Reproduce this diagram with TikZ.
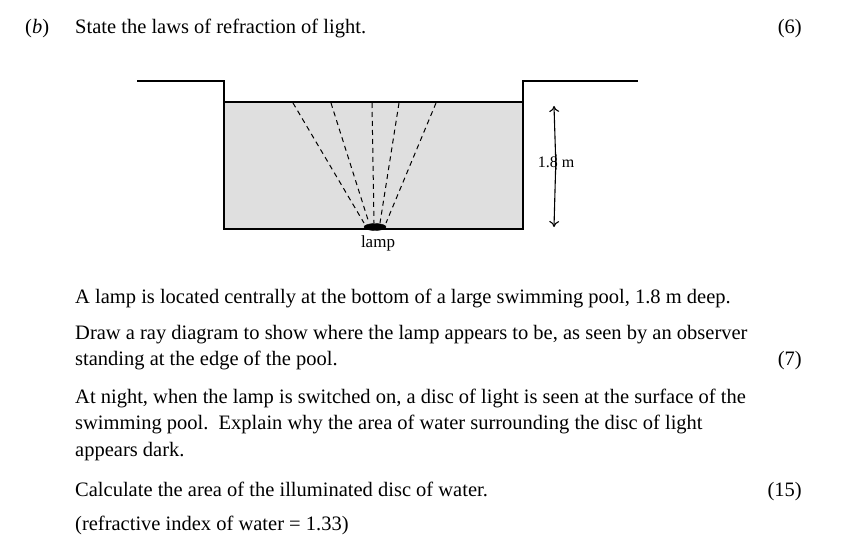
\documentclass[tikz,border=0pt]{standalone}
\usepackage{fontspec}
\setmainfont{Liberation Serif}
\usetikzlibrary{shapes.geometric,arrows.meta}
\begin{document}
\begin{tikzpicture}[x=1pt,y=-1pt,
  txt/.style={anchor=base west,inner sep=0pt,font=\fontsize{20.5}{24}\selectfont},
  mrk/.style={anchor=base east,inner sep=0pt,font=\fontsize{20.5}{24}\selectfont},
  ray/.style={line width=1pt,dash pattern=on 5pt off 4pt}]
\useasboundingbox (0,0) rectangle (851,559);
\node[txt] (b) at (25,34) {(\textit{b})};
\node[txt] (q) at (75,34) {State the laws of refraction of light.};
\node[mrk] (m6) at (802,34) {(6)};
% pool
\fill[gray!25] (224,102) rectangle (523,229);
\draw[line width=1.3pt] (137,81) -- (224,81) -- (224,229) -- (523,229) -- (523,81) -- (638,81);
\draw[line width=1.3pt] (224,102) -- (523,102);
\node[fill=black,ellipse,minimum width=22pt,minimum height=7pt,inner sep=0pt,draw] (lamp) at (375,227) {};
\foreach \t/\b in {293/364,331/369,372/374,399/380,436/386}
  \draw[ray] (\t,103) -- (\b,223);
\node[inner sep=0pt,font=\fontsize{17}{20}\selectfont] (ll) at (378,243) {lamp};
\node[inner sep=2pt,font=\fontsize{16}{19}\selectfont] (d) at (556,162) {1.8 m};
\coordinate (at) at (554,106);
\coordinate (ab) at (554,227);
\draw[-{To[length=6pt,width=10pt]},line width=1.1pt] (d.south) -- (at);
\draw[-{To[length=6pt,width=10pt]},line width=1.1pt] (d.north) -- (ab);
\node[txt] at (75,303) {A lamp is located centrally at the bottom of a large swimming pool, 1.8 m deep.};
\node[txt] at (75,339) {Draw a ray diagram to show where the lamp appears to be, as seen by an observer};
\node[txt] at (75,365) {standing at the edge of the pool.};
\node[mrk] at (802,365) {(7)};
\node[txt] at (75,403) {At night, when the lamp is switched on, a disc of light is seen at the surface of the};
\node[txt] at (75,429) {swimming pool.\ \ Explain why the area of water surrounding the disc of light};
\node[txt] at (75,456) {appears dark.};
\node[txt] at (75,496) {Calculate the area of the illuminated disc of water.};
\node[mrk] at (802,496) {(15)};
\node[txt] at (75,530) {(refractive index of water = 1.33)};
\end{tikzpicture}
\end{document}
